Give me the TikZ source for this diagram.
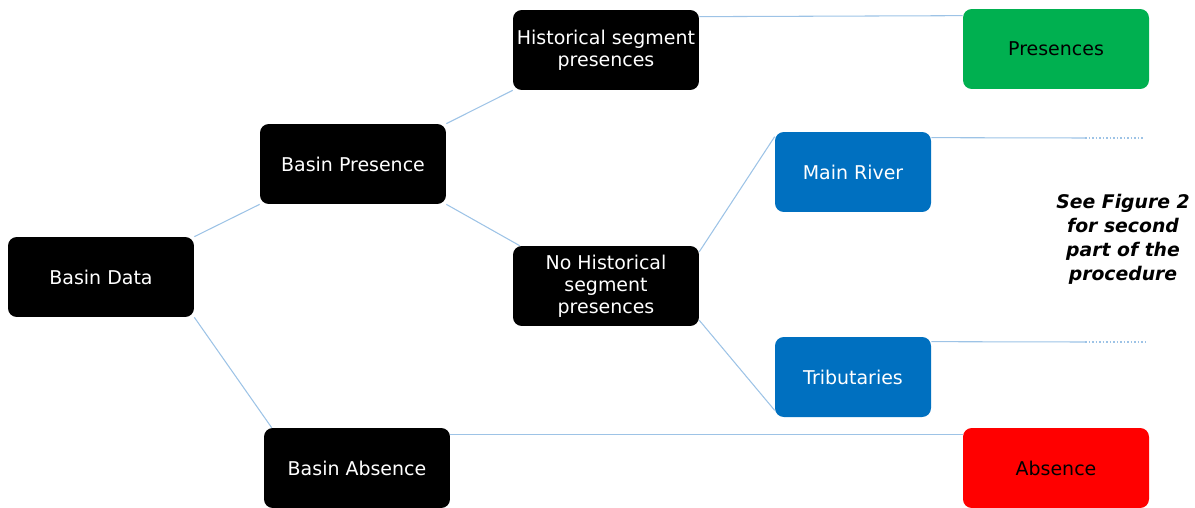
\documentclass[tikz,border=0pt]{standalone}
\usepackage{fontspec}
\setmainfont{DejaVu Sans}
\usepackage{tikz}
\usetikzlibrary{arrows,shapes,positioning,backgrounds}
\usepackage{xcolor}
\definecolor{bdblue}{RGB}{0,112,192}
\definecolor{bdgreen}{RGB}{0,176,80}
\definecolor{bdred}{RGB}{255,0,0}
\definecolor{bdline}{RGB}{157,195,230}
\tikzstyle{decision} = [rectangle, rounded corners=5pt, minimum width=3.72cm, minimum height=1.6cm, text centered, align=center, fill=black, text=white, inner sep=1pt, font=\fontsize{10.8}{12.4}\selectfont]
\tikzstyle{branch} = [decision, minimum width=3.12cm, fill=bdblue]
\tikzstyle{outcome} = [decision, text=black]
\tikzstyle{link} = [line width=0.6pt, color=bdline]
\tikzstyle{linkcont} = [link, dash pattern=on 1pt off 1pt]

\begin{document}
\begin{tikzpicture}[x=0.02cm, y=-0.02cm]
\useasboundingbox (0,0) rectangle (1195,507);
% Basin level
\node[decision] (data) at (101,277) {Basin Data};
\node[decision] (pres) at (353,164) {Basin Presence};
\node[decision] (absn) at (357,468) {Basin Absence};

% Segment level
\node[decision] (hist) at (606,50) {Historical segment\\presences};
\node[decision] (nohist) at (606,286) {No Historical\\segment\\presences};
\node[branch] (main) at (853,172) {Main River};
\node[branch] (trib) at (853,377) {Tributaries};

% Results
\node[outcome, fill=bdgreen] (presences) at (1056,49) {Presences};
\node[outcome, fill=bdred] (absence) at (1056,468) {Absence};
\node[align=center, font=\fontsize{10.7}{13.6}\selectfont\bfseries\itshape] (note) at (1123,239) {See Figure 2\\for second\\part of the\\procedure};
\coordinate (main_end) at (1085,138);
\coordinate (main_cont) at (1143,138);
\coordinate (trib_end) at (1085,342);
\coordinate (trib_cont) at (1145,342);

\begin{scope}[on background layer]
\draw[link] (data.north east) -- (pres.south west);
\draw[link] (data.south east) -- ([xshift=0.16cm]absn.north west);
\draw[link] (pres.north east) -- (hist.south west);
\draw[link] (pres.south east) -- ([xshift=0.14cm]nohist.north west);
\draw[link] ([yshift=-0.14cm]hist.north east) -- ([yshift=-0.14cm]presences.north west);
\draw[link] ([yshift=-0.12cm]nohist.north east) -- ([yshift=-0.1cm]main.north west);
\draw[link] ([yshift=0.12cm]nohist.south east) -- ([yshift=0.14cm]trib.south west);
\draw[link] ([yshift=-0.12cm]main.north east) -- (main_end);
\draw[linkcont] (main_end) -- (main_cont);
\draw[link] ([yshift=-0.1cm]trib.north east) -- (trib_end);
\draw[linkcont] (trib_end) -- (trib_cont);
\draw[link] ([yshift=-0.14cm]absn.north east) -- ([yshift=-0.14cm]absence.north west);
\end{scope}
\end{tikzpicture}
\end{document}
